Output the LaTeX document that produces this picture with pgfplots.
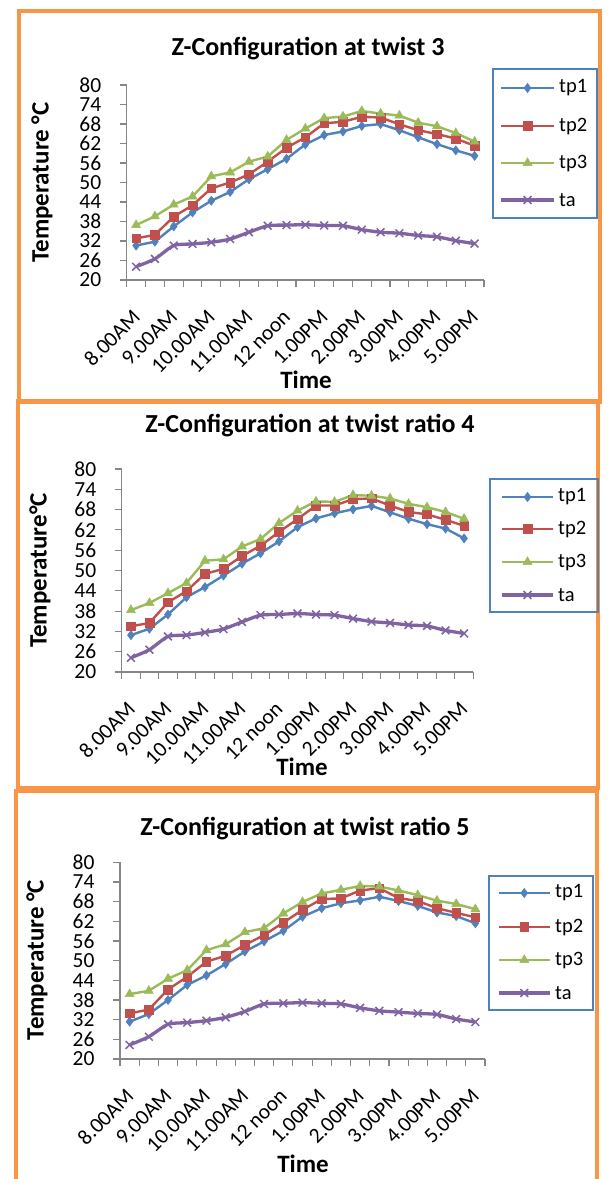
\documentclass[border=0pt]{standalone}
\usepackage{fontspec}
\setmainfont{Carlito}
\usepackage{pgfplots}
\usepackage{pgfplotstable}
\pgfplotsset{compat=1.18}
\definecolor{cblue}{HTML}{4F81BD}
\definecolor{cred}{HTML}{C0504D}
\definecolor{cgreen}{HTML}{9BBB59}
\definecolor{cpurple}{HTML}{8064A2}
\definecolor{corange}{HTML}{F79646}
\definecolor{caxis}{HTML}{868686}

\pgfplotstableread{
x tp1 tp2 tp3 ta
0 30.6 32.8 36.9 24.1
1 31.8 33.9 39.6 26.5
2 36.5 39.5 43.2 30.6
3 40.8 43.0 45.7 31.1
4 44.4 48.2 51.9 31.6
5 47.1 50.0 53.1 32.6
6 51.0 52.5 56.4 34.7
7 54.1 56.4 58.0 36.7
8 57.3 60.7 63.1 36.9
9 61.7 63.9 66.6 37.0
10 64.6 68.2 69.8 36.8
11 65.7 68.7 70.3 36.7
12 67.4 70.2 72.0 35.5
13 68.0 70.0 71.2 34.7
14 66.1 67.9 70.6 34.4
15 63.9 66.1 68.4 33.7
16 61.8 64.9 67.3 33.3
17 59.9 63.5 65.2 32.1
18 58.2 61.3 62.6 31.2
}\dataA

\pgfplotstableread{
x tp1 tp2 tp3 ta
0 30.9 33.5 38.3 24.2
1 32.8 34.5 40.4 26.6
2 37.0 40.6 43.3 30.5
3 42.1 43.9 46.3 30.9
4 45.1 49.0 52.9 31.7
5 48.5 50.5 53.3 32.7
6 52.0 54.3 57.1 34.8
7 55.1 57.3 59.3 36.8
8 58.6 61.4 64.0 37.0
9 62.8 65.2 67.7 37.3
10 65.4 69.2 70.4 37.0
11 66.9 69.2 70.3 36.8
12 68.1 71.1 72.3 35.8
13 69.1 71.3 72.1 34.9
14 67.2 69.2 71.3 34.5
15 65.3 67.3 69.7 33.9
16 63.7 66.6 68.7 33.6
17 62.4 65.0 67.3 32.3
18 59.5 63.2 65.3 31.4
}\dataB

\pgfplotstableread{
x tp1 tp2 tp3 ta
0 31.4 33.9 39.8 24.3
1 33.7 35.1 40.8 26.8
2 38.0 41.2 44.5 30.6
3 42.6 45.1 47.1 31.1
4 45.5 49.7 53.2 31.7
5 49.0 51.5 55.0 32.7
6 52.8 54.8 58.7 34.5
7 55.9 57.8 59.9 36.8
8 59.1 61.6 64.4 37.0
9 63.4 65.5 67.9 37.2
10 66.0 68.8 70.5 37.0
11 67.5 69.0 71.6 36.8
12 68.4 71.4 72.8 35.6
13 69.5 72.1 72.6 34.7
14 68.2 69.1 71.4 34.3
15 66.7 68.2 70.0 33.9
16 64.7 66.0 68.3 33.6
17 63.6 64.6 67.3 32.2
18 61.4 63.2 65.7 31.3
}\dataC

\newcommand{\legfont}{\fontsize{20.5bp}{23bp}\selectfont}

\pgfplotsset{
  zstyle/.style={
    scale only axis,
    xmin=-0.5, xmax=18.5,
    ymin=20, ymax=80,
    ytick={20,26,...,80},
    xtick={-0.5,0.5,...,18.5},
    xticklabels={},
    extra x ticks={0,2,...,18},
    extra x tick labels={8.00AM,9.00AM,10.00AM,11.00AM,12 noon,1.00PM,2.00PM,3.00PM,4.00PM,5.00PM},
    extra x tick style={major tick length=0pt},
    axis x line*=bottom,
    axis y line*=left,
    axis line style={caxis, line width=1.3bp},
    tick style={caxis, line width=1.1bp},
    tick align=outside,
    major tick length=7bp,
    /pgf/number format/assume math mode=true,
    tick label style={font=\fontsize{21.5bp}{24bp}\selectfont},
    yticklabel style={anchor=east, xshift=-15bp},
    xticklabel style={inner sep=0pt, yshift=-28bp, xshift=-5bp, rotate=45, anchor=north east},
    every axis plot/.append style={line width=2.4bp},
    clip=false,
  },
  legax/.style={
    scale only axis, anchor=south west,
    xtick=\empty, ytick=\empty,
    axis line style={cblue, line width=1.2bp},
    every axis plot/.append style={line width=2.4bp, mark repeat=2, mark phase=2},
    clip=false,
  },
  s1/.style={cblue, mark=diamond*, mark size=4.6bp, mark options={solid, fill=cblue, line width=0.5bp}},
  s2/.style={cred, mark=square*, mark size=4.3bp, mark options={solid, fill=cred, line width=0.5bp}},
  s3/.style={cgreen, mark=triangle*, mark size=5.2bp, mark options={solid, fill=cgreen, line width=0.5bp}},
  s4/.style={cpurple, line width=3.3bp, smooth, tension=0.4, mark=x, mark size=5.5bp, mark options={solid, line width=1.5bp}},
}

\newcommand{\titlefont}{\fontsize{26bp}{30bp}\selectfont\bfseries}
\newcommand{\labfont}{\fontsize{25bp}{29bp}\selectfont\bfseries}

\begin{document}
\begin{tikzpicture}
\path[use as bounding box] (0bp,0bp) rectangle (608bp,-1179bp);
\fill[white] (0bp,0bp) rectangle (608bp,-1179bp);

% panel frames
\draw[corange, line width=4bp] (18.5bp,-11bp) rectangle (599.5bp,-401.5bp);
\draw[corange, line width=4bp] (17.8bp,-401bp) rectangle (598bp,-787.5bp);
\draw[corange, line width=4bp] (16bp,-1182bp) -- (16bp,-791bp) -- (597bp,-791bp) -- (597bp,-1182bp);

% ---------- panel 1 ----------
\begin{axis}[zstyle, at={(126.7bp,-280bp)}, anchor=south west, width=357.3bp, height=195bp]
\addplot[s1] table[x=x, y=tp1] {\dataA};
\addplot[s2] table[x=x, y=tp2] {\dataA};
\addplot[s3] table[x=x, y=tp3] {\dataA};
\addplot[s4] table[x=x, y=ta] {\dataA};
\end{axis}
\begin{axis}[legax, at={(493bp,-218bp)}, width=104bp, height=149bp, xmin=0, xmax=104, ymin=0, ymax=149]
\addplot[s1, mark repeat=2, mark phase=2] coordinates {(8,130) (34.5,130) (61,130)};
\addplot[s2, mark repeat=2, mark phase=2] coordinates {(8,92) (34.5,92) (61,92)};
\addplot[s3, mark repeat=2, mark phase=2] coordinates {(8,55) (34.5,55) (61,55)};
\addplot[s4, mark repeat=2, mark phase=2] coordinates {(8,18) (34.5,18) (61,18)};
\node[anchor=west, font=\legfont, inner sep=0pt] at (axis cs:66,130) {tp1};
\node[anchor=west, font=\legfont, inner sep=0pt] at (axis cs:66,92) {tp2};
\node[anchor=west, font=\legfont, inner sep=0pt] at (axis cs:66,55) {tp3};
\node[anchor=west, font=\legfont, inner sep=0pt] at (axis cs:66,18) {ta};
\end{axis}
\node[anchor=base, font=\titlefont] at (308bp,-55bp) {Z-Configuration at twist 3};
\node[rotate=90, font=\labfont] at (42bp,-182.5bp) {Temperature °C};
\node[anchor=base, font=\labfont] at (306bp,-388bp) {Time};

% ---------- panel 2 ----------
\begin{axis}[zstyle, at={(121.7bp,-672bp)}, anchor=south west, width=351.6bp, height=203bp]
\addplot[s1] table[x=x, y=tp1] {\dataB};
\addplot[s2] table[x=x, y=tp2] {\dataB};
\addplot[s3] table[x=x, y=tp3] {\dataB};
\addplot[s4] table[x=x, y=ta] {\dataB};
\end{axis}
\begin{axis}[legax, at={(490bp,-612bp)}, width=108bp, height=133bp, xmin=0, xmax=108, ymin=0, ymax=133]
\addplot[s1, mark repeat=2, mark phase=2] coordinates {(12,115) (37.5,115) (63,115)};
\addplot[s2, mark repeat=2, mark phase=2] coordinates {(12,83) (37.5,83) (63,83)};
\addplot[s3, mark repeat=2, mark phase=2] coordinates {(12,50) (37.5,50) (63,50)};
\addplot[s4, mark repeat=2, mark phase=2] coordinates {(12,17) (37.5,17) (63,17)};
\node[anchor=west, font=\legfont, inner sep=0pt] at (axis cs:68,115) {tp1};
\node[anchor=west, font=\legfont, inner sep=0pt] at (axis cs:68,83) {tp2};
\node[anchor=west, font=\legfont, inner sep=0pt] at (axis cs:68,50) {tp3};
\node[anchor=west, font=\legfont, inner sep=0pt] at (axis cs:68,17) {ta};
\end{axis}
\node[anchor=base, font=\titlefont] at (310bp,-432bp) {Z-Configuration at twist ratio 4};
\node[rotate=90, font=\labfont] at (40bp,-570.5bp) {Temperature°C};
\node[anchor=base, font=\labfont] at (302bp,-775bp) {Time};

% ---------- panel 3 ----------
\begin{axis}[zstyle, at={(120bp,-1059bp)}, anchor=south west, width=365bp, height=196.7bp]
\addplot[s1] table[x=x, y=tp1] {\dataC};
\addplot[s2] table[x=x, y=tp2] {\dataC};
\addplot[s3] table[x=x, y=tp3] {\dataC};
\addplot[s4] table[x=x, y=ta] {\dataC};
\end{axis}
\begin{axis}[legax, at={(489bp,-1010bp)}, width=104bp, height=134bp, xmin=0, xmax=104, ymin=0, ymax=134]
\addplot[s1, mark repeat=2, mark phase=2] coordinates {(10,117) (35.25,117) (60.5,117)};
\addplot[s2, mark repeat=2, mark phase=2] coordinates {(10,83) (35.25,83) (60.5,83)};
\addplot[s3, mark repeat=2, mark phase=2] coordinates {(10,50) (35.25,50) (60.5,50)};
\addplot[s4, mark repeat=2, mark phase=2] coordinates {(10,17) (35.25,17) (60.5,17)};
\node[anchor=west, font=\legfont, inner sep=0pt] at (axis cs:66,117) {tp1};
\node[anchor=west, font=\legfont, inner sep=0pt] at (axis cs:66,83) {tp2};
\node[anchor=west, font=\legfont, inner sep=0pt] at (axis cs:66,50) {tp3};
\node[anchor=west, font=\legfont, inner sep=0pt] at (axis cs:66,17) {ta};
\end{axis}
\node[anchor=base, font=\titlefont] at (305bp,-835bp) {Z-Configuration at twist ratio 5};
\node[rotate=90, font=\labfont] at (37bp,-960bp) {Temperature °C};
\node[anchor=base, font=\labfont] at (303bp,-1172bp) {Time};
\end{tikzpicture}
\end{document}
